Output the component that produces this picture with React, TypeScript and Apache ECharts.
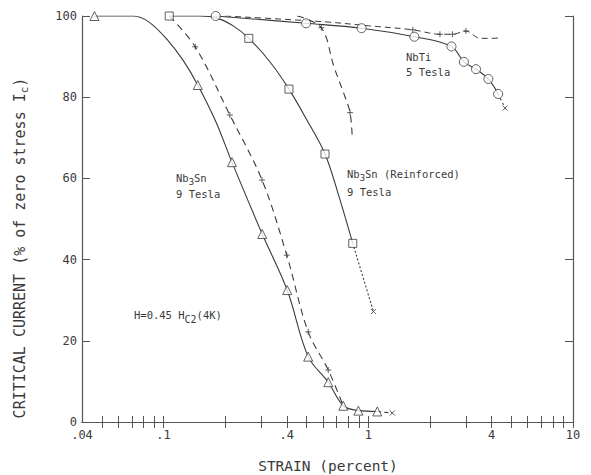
import React, { useEffect, useRef } from "react";
import * as echarts from "echarts";

// ---- axis ticks / labels ----
const xTickValues = [0.05, 0.06, 0.07, 0.08, 0.09, 0.1, 0.2, 0.3, 0.4, 0.5, 0.6, 0.7, 0.8, 0.9, 1, 2, 3, 4, 5, 6, 7, 8, 9, 10];
const xLabelValues = [0.04, 0.1, 0.4, 1, 4, 10];
const yTickValues = [0, 20, 40, 60, 80, 100];

// ---- Nb3Sn 9 Tesla (triangles, solid) ----
const nb3snCurveX = [0.046, 0.071, 0.085, 0.105, 0.125, 0.147, 0.18, 0.216, 0.3036, 0.402, 0.509, 0.638, 0.755, 0.895, 1.107];
const nb3snCurveY = [100, 100, 98.5, 94, 89, 83, 74, 64, 46.3, 32.5, 16.1, 9.8, 4.0, 2.8, 2.6];
const nb3snTriX = [0.046, 0.147, 0.216, 0.3036, 0.402, 0.509, 0.638, 0.755, 0.895, 1.107];
const nb3snTriY = [100, 83, 64, 46.3, 32.5, 16.1, 9.8, 4.0, 2.8, 2.6];
const nb3snTailX = [1.107, 1.31];
const nb3snTailY = [2.6, 2.2];

// ---- Nb3Sn 9 Tesla (plus, dashed) ----
const nb3snDashX = [0.1067, 0.143, 0.211, 0.303, 0.40, 0.509, 0.638, 0.755];
const nb3snDashY = [100, 92.4, 75.6, 59.6, 41.1, 22.2, 12.8, 4.0];
const nb3snPlusX = [0.143, 0.211, 0.303, 0.40, 0.509, 0.638];
const nb3snPlusY = [92.4, 75.6, 59.6, 41.1, 22.2, 12.8];

// ---- Nb3Sn (Reinforced) 9 Tesla (squares, solid) ----
const reinfCurveX = [0.1067, 0.15, 0.18, 0.22, 0.261, 0.33, 0.41, 0.5, 0.615, 0.72, 0.84];
const reinfCurveY = [100, 100, 99.6, 97.5, 94.5, 88.8, 82, 74.5, 66, 55.5, 44];
const reinfSqX = [0.1067, 0.261, 0.41, 0.615, 0.84];
const reinfSqY = [100, 94.5, 82, 66, 44];
const reinfTailX = [0.84, 1.06];
const reinfTailY = [44, 27.2];

// ---- second dashed curve (plus) ending near 0.84 ----
const dash2X = [0.45, 0.59, 0.68, 0.77, 0.815, 0.835];
const dash2Y = [100, 97.1, 87.5, 80.1, 76.2, 70.3];
const dash2PlusX = [0.59, 0.815];
const dash2PlusY = [97.1, 76.2];

// ---- NbTi 5 Tesla (circles, solid) ----
const nbtiCurveX = [0.18, 0.497, 0.928, 1.68, 2.55, 2.93, 3.36, 3.86, 4.31];
const nbtiCurveY = [100, 98.2, 97.0, 94.9, 92.5, 88.7, 86.9, 84.5, 80.8];
const nbtiTailX = [4.31, 4.66];
const nbtiTailY = [80.8, 77.3];

// ---- NbTi 5 Tesla (plus, dashed) ----
const nbtiDashX = [0.2, 0.6, 1.0, 1.65, 2.24, 2.58, 3.0, 3.52, 4.0, 4.4];
const nbtiDashY = [100, 98.6, 97.6, 96.6, 95.5, 95.5, 96.3, 94.5, 94.5, 94.6];
const nbtiPlusX = [1.65, 2.24, 2.58, 3.0];
const nbtiPlusY = [96.6, 95.5, 95.5, 96.3];

const INK = "#3a3a3a";
const FONT = "'DejaVu Sans Mono', 'Liberation Mono', monospace";
const PLUS = "path://M5,0L5,10M0,5L10,5";
const CROSS = "path://M0,0L10,10M10,0L0,10";

const zip = (xs: number[], ys: number[]) => xs.map((x, i) => [x, ys[i]]);
const fmtX = (v: number) => {
  const s = String(Math.round(v * 1000) / 1000);
  return s.startsWith("0.") ? s.slice(1) : s;
};

export default function App() {
  const ref = useRef<HTMLDivElement>(null);
  useEffect(() => {
    if (!ref.current) return;
    const chart = echarts.init(ref.current, null, { renderer: "svg" });

    const lineSeries = (data: number[][], type: any, width = 1.1) => ({
      type: "line",
      data,
      smooth: 0.35,
      showSymbol: false,
      symbol: "none",
      lineStyle: { color: INK, width, type },
      z: 2,
      silent: true,
    });
    const markerSeries = (data: number[][], symbol: string, size: number, fill = "#ffffff") => ({
      type: "scatter",
      data,
      symbol,
      symbolSize: size,
      itemStyle: { color: fill, borderColor: INK, borderWidth: 1 },
      z: 3,
      silent: true,
    });

    const axisCommonX = {
      type: "log",
      logBase: 10,
      min: 0.04,
      max: 10,
      splitLine: { show: false },
      axisLine: { show: true, lineStyle: { color: "#555", width: 1.2 } },
    };
    const axisCommonY = {
      type: "value",
      min: 0,
      max: 100,
      interval: 20,
      splitLine: { show: false },
      axisLine: { show: true, lineStyle: { color: "#555", width: 1.2 } },
      axisTick: { show: true, inside: true, length: 8, lineStyle: { color: "#555" } },
    };

    const textStyle = (size: number) => ({ fill: INK, fontSize: size, fontFamily: FONT });
    const sub = (size: number, pad: number) => ({ s: { fontSize: size, fontFamily: FONT, fill: INK, padding: [pad, 0, 0, 0] } });

    chart.setOption({
      animation: false,
      backgroundColor: "#ffffff",
      grid: { left: 82, right: 18, top: 16, bottom: 53, containLabel: false },
      xAxis: [
        {
          ...axisCommonX,
          position: "bottom",
          axisTick: { show: true, inside: true, length: 6, customValues: xTickValues, lineStyle: { color: "#555" } },
          axisLabel: {
            show: true,
            customValues: xLabelValues,
            formatter: (v: number) => fmtX(v),
            color: INK,
            fontSize: 12,
            lineHeight: 12,
            fontFamily: FONT,
            margin: 7,
          },
        },
        {
          ...axisCommonX,
          position: "top",
          axisTick: { show: true, inside: true, length: 6, customValues: xTickValues, lineStyle: { color: "#555" } },
          axisLabel: { show: false },
        },
      ],
      yAxis: [
        {
          ...axisCommonY,
          position: "left",
          axisLabel: { show: true, color: INK, fontSize: 12, lineHeight: 11, fontFamily: FONT, margin: 5, customValues: yTickValues },
        },
        {
          ...axisCommonY,
          position: "right",
          axisLabel: { show: false },
        },
      ],
      series: [
        lineSeries(zip(nb3snCurveX, nb3snCurveY), "solid"),
        lineSeries(zip(nb3snTailX, nb3snTailY), [4, 3]),
        lineSeries(zip(nb3snDashX, nb3snDashY), [7, 5]),
        lineSeries(zip(reinfCurveX, reinfCurveY), "solid"),
        lineSeries(zip(reinfTailX, reinfTailY), [2, 2]),
        lineSeries(zip(dash2X, dash2Y), [7, 5]),
        lineSeries(zip(nbtiCurveX, nbtiCurveY), "solid"),
        lineSeries(zip(nbtiTailX, nbtiTailY), [2, 3]),
        lineSeries(zip(nbtiDashX, nbtiDashY), [6, 4], 1),
        markerSeries(zip(nb3snTriX, nb3snTriY), "triangle", 9),
        markerSeries(zip(reinfSqX, reinfSqY), "rect", 8),
        markerSeries(zip(nbtiCurveX, nbtiCurveY), "circle", 9),
        markerSeries(zip(nb3snPlusX, nb3snPlusY), PLUS, 6, "none"),
        markerSeries(zip(dash2PlusX, dash2PlusY), PLUS, 6, "none"),
        markerSeries(zip(nbtiPlusX, nbtiPlusY), PLUS, 6, "none"),
        markerSeries([zip(nb3snTailX, nb3snTailY)[1], zip(reinfTailX, reinfTailY)[1], zip(nbtiTailX, nbtiTailY)[1]], CROSS, 5, "none"),
      ],
      graphic: [
        {
          type: "text", x: 176, y: 178,
          style: { ...textStyle(10.5), text: "Nb{s|3}Sn", textVerticalAlign: "middle", rich: sub(9, 8) },
        },
        { type: "text", x: 176, y: 194, style: { ...textStyle(10.5), text: "9 Tesla", textVerticalAlign: "middle" } },
        {
          type: "text", x: 347, y: 174,
          style: { ...textStyle(10.5), text: "Nb{s|3}Sn (Reinforced)", textVerticalAlign: "middle", rich: sub(9, 8) },
        },
        { type: "text", x: 347, y: 192, style: { ...textStyle(10.5), text: "9 Tesla", textVerticalAlign: "middle" } },
        { type: "text", x: 406, y: 57, style: { ...textStyle(10.5), text: "NbTi", textVerticalAlign: "middle" } },
        { type: "text", x: 406, y: 72, style: { ...textStyle(10.5), text: "5 Tesla", textVerticalAlign: "middle" } },
        {
          type: "text", x: 134, y: 315,
          style: { ...textStyle(10.5), text: "H=0.45 H{s|C2}(4K)", textVerticalAlign: "middle", rich: sub(10, 9) },
        },
        {
          type: "text", x: 328, y: 466,
          style: { ...textStyle(14.5), text: "STRAIN (percent)", textAlign: "center", textVerticalAlign: "middle" },
        },
        {
          type: "text", x: 20, y: 248, rotation: Math.PI / 2,
          style: { ...textStyle(15), text: "CRITICAL CURRENT (% of zero stress I{s|c})", textAlign: "center", textVerticalAlign: "middle", rich: sub(11, 8) },
        },
      ],
    } as any);
    return () => chart.dispose();
  }, []);
  return (
    <div
      ref={ref}
      style={{ position: "fixed", left: 0, top: 0, width: 591, height: 475, background: "#fff" }}
    />
  );
}
